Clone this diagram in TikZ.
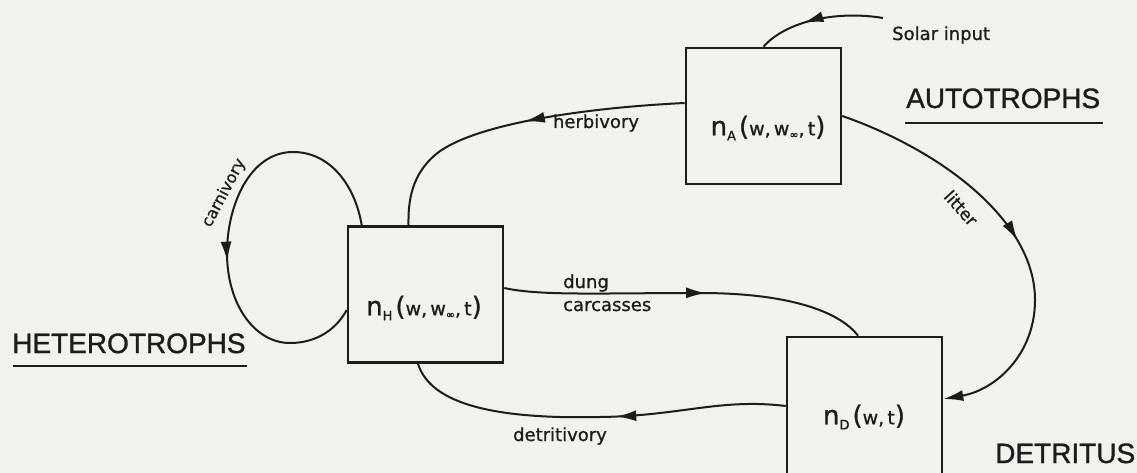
\documentclass[tikz,border=0pt]{standalone}
\usepackage{fontspec}
\setmainfont{DejaVu Sans}[FakeBold=0.9]
\newfontfamily\bigfont{Liberation Sans}[FakeBold=1.2]
\usetikzlibrary{arrows.meta,decorations.markings}

\definecolor{paper}{RGB}{241,241,239}
\definecolor{ink}{RGB}{28,28,28}

% population density label: n_X(arguments)
\newcommand\infsub{\raisebox{-3pt}{\fontsize{11}{11}\selectfont ∞}}
\newcommand\popvar[2]{{\fontsize{26}{26}\selectfont n}\raisebox{-5pt}{\fontsize{13}{13}\selectfont #1}\hspace{3pt}{\fontsize{26}{26}\selectfont (}{\fontsize{19}{19}\selectfont #2}{\fontsize{26}{26}\selectfont )}}

\tikzset{
  flowtip/.tip={Latex[length=20pt,width=11pt]},
  popbox/.style={draw=ink, line width=2.6pt, minimum width=155pt, minimum height=136pt, inner sep=0pt},
  boxtext/.style={text=ink, inner sep=0pt},
  flow/.style={draw=ink, line width=2pt},
  midarrow/.style={postaction={decorate}, decoration={markings, mark=at position #1 with {\arrow[ink]{flowtip}}}},
  smalllab/.style={text=ink, font=\fontsize{18}{18}\selectfont, inner sep=0pt},
  grouplab/.style={text=ink, font=\bigfont\fontsize{28}{28}\selectfont, inner sep=0pt},
  uline/.style={draw=ink, line width=2.6pt},
}

\begin{document}
\begin{tikzpicture}[x=1pt,y=-1pt]
\useasboundingbox (0,0) rectangle (1137,473);
\fill[paper] (0,0) rectangle (1137,473);
\clip (0,0) rectangle (1137,473);

% compartments
\node[popbox] (A) at (763.5,116) {};
\node[popbox] (H) at (425.5,294.5) {};
\node[popbox, minimum height=142pt] (D) at (864.5,408) {};

\node[boxtext] (Alab) at (768,128) {\popvar{A}{w,\,w\infsub,\,t}};
\node[boxtext] (Hlab) at (424,308) {\popvar{H}{w,\,w\infsub,\,t}};
\node[boxtext] (Dlab) at (864,417) {\popvar{D}{w,\,t}};

% group titles
\node[grouplab, anchor=base west] (auto) at (906,108) {AUTOTROPHS};
\draw[uline] ([shift={(-1,15)}]auto.base west) -- ([shift={(3,15)}]auto.base east);
\node[grouplab, anchor=base west] (hetero) at (12,353) {HETEROTROPHS};
\draw[uline] ([shift={(1,13)}]hetero.base west) -- ([shift={(1,13)}]hetero.base east);
\node[grouplab, anchor=base west] (detr) at (995,463) {DETRITUS};

% solar input
\node[smalllab, anchor=base west] (solar) at (892,40) {Solar input};
\coordinate (sun) at (883,18);
\draw[flow, midarrow=0.63] (sun) .. controls (835,10) and (785,22) .. (A.north);

% herbivory
\draw[flow, midarrow=0.48] ([yshift=13pt]A.west) .. controls (580,108) and (470,125) .. (435,155)
  .. controls (412,175) and (408,200) .. ([xshift=-17pt]H.north);
\node[smalllab, anchor=base] (herb) at (596,128) {herbivory};

% carnivory loop
\draw[flow, midarrow=0.58] ([xshift=15pt]H.north west) .. controls (355,185) and (330,152) .. (293,152)
  .. controls (250,152) and (227,205) .. (227,253)
  .. controls (227,305) and (255,343) .. (290,343)
  .. controls (318,343) and (337,328) .. ([yshift=-15.5pt]H.west);
\node[smalllab, font=\fontsize{16}{16}\selectfont, rotate=62] (carn) at (224,193) {carnivory};

% litter
\draw[flow, midarrow=0.51, -{flowtip}] (A.east) .. controls (940,150) and (1035,220) .. (1035,300)
  .. controls (1035,355) and (995,390) .. ([yshift=9pt]D.east);
\node[smalllab, font=\fontsize{17}{17}\selectfont, rotate=-48] (lit) at (961,208) {litter};

% dung and carcasses
\draw[flow, midarrow=0.555] ([yshift=6.5pt]H.east) .. controls (540,296) and (600,293) .. (700,293)
  .. controls (790,293) and (840,312) .. ([xshift=-6.5pt]D.north);
\node[smalllab, anchor=base west] (dung) at (563,288) {dung};
\node[smalllab, anchor=base west] (carc) at (563,311) {carcasses};

% detritivory
\draw[flow, midarrow=0.44] ([yshift=2pt]D.west) .. controls (720,398) and (680,416) .. (600,417)
  .. controls (470,420) and (428,395) .. ([xshift=-7.5pt]H.south);
\node[smalllab, anchor=base] (detv) at (560,441) {detritivory};
\end{tikzpicture}
\end{document}
